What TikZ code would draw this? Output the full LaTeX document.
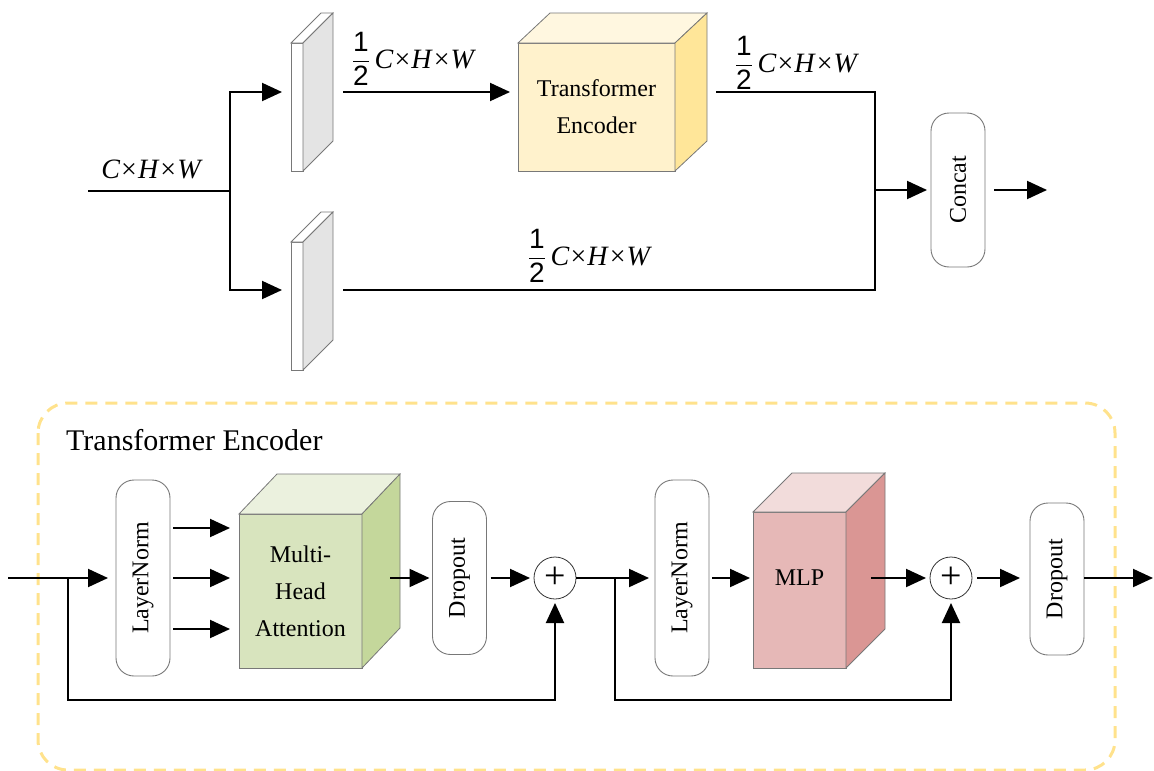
\documentclass[tikz,border=0pt]{standalone}
\usepackage{fontspec}
\setmainfont{Liberation Serif}
\setsansfont{Liberation Sans}
\usepackage{amsmath}
\usepackage{graphicx}
\usetikzlibrary{arrows.meta, positioning}

\definecolor{edgegray}{RGB}{120,120,120}
\definecolor{frameyellow}{RGB}{255,226,140}
\definecolor{encfront}{RGB}{255,242,204}
\definecolor{enctop}{RGB}{255,247,224}
\definecolor{encside}{RGB}{255,230,153}
\definecolor{mhafront}{RGB}{216,228,190}
\definecolor{mhatop}{RGB}{235,241,222}
\definecolor{mhaside}{RGB}{196,215,155}
\definecolor{mlpfront}{RGB}{230,184,183}
\definecolor{mlptop}{RGB}{242,220,219}
\definecolor{mlpside}{RGB}{218,150,148}
\definecolor{slabside}{RGB}{228,228,228}

% top and side faces of a box drawn behind its front node
\newcommand{\drawcube}[5]{%
  \filldraw[face, fill=#4] (#1.north west) -- ([shift={(#2,#3)}]#1.north west)
    -- ([shift={(#2,#3)}]#1.north east) -- (#1.north east) -- cycle;
  \filldraw[face, fill=#5] (#1.north east) -- ([shift={(#2,#3)}]#1.north east)
    -- ([shift={(#2,#3)}]#1.south east) -- (#1.south east) -- cycle;}
\newcommand{\chw}{\textit{C}\kern1pt×\kern1pt\textit{H}\kern1pt×\kern1pt\textit{W}}
\newcommand{\halfchw}{$\dfrac{\textsf{1}}{\textsf{2}}$\,\chw}

\begin{document}
\begin{tikzpicture}[x=1pt, y=-1pt,
  line/.style={line width=2pt},
  arr/.style={line width=2pt, -{Triangle[length=20pt, width=18pt]}},
  face/.style={draw=edgegray, line width=0.8pt},
  front/.style={face, outer sep=0pt, inner sep=0pt, align=center, font=\fontsize{24}{37}\selectfont},
  vbox/.style={draw=edgegray, line width=0.9pt, rounded corners=18pt, outer sep=0pt, minimum width=54pt, font=\fontsize{24}{28}\selectfont},
  addop/.style={circle, draw=black!80, line width=0.8pt, minimum size=42pt, inner sep=0pt, outer sep=0pt, font=\fontsize{38}{40}\selectfont},
  dimlabel/.style={font=\fontsize{28}{32}\selectfont, anchor=base, inner sep=0pt},
  frame/.style={draw=frameyellow, line width=3pt, dash pattern=on 12pt off 8pt, rounded corners=30pt}
]
  \useasboundingbox (0,0) rectangle (1154,771);

  % ---- upper part: split, encoder, concat ----
  \coordinate (in) at (88,191);
  \coordinate (split) at (230,191);
  \coordinate (r1) at (0,92);
  \coordinate (r2) at (0,290);
  \coordinate (merge) at (875,190);
  \coordinate (out) at (1047,190);

  \node[front, fill=white, minimum width=12pt, minimum height=128pt] (sa) at (297,107) {};
  \drawcube{sa}{30pt}{30pt}{white}{slabside}
  \node[front, fill=white, minimum width=12pt, minimum height=128pt] (sb) at (297,306) {};
  \drawcube{sb}{30pt}{30pt}{white}{slabside}

  \node[front, fill=encfront, minimum width=157pt, minimum height=128pt] (enc) at (596.5,107) {Transformer\\Encoder};
  \drawcube{enc}{32pt}{30pt}{enctop}{encside}

  \node[vbox, minimum height=154pt] (concat) at (958,190) {\rotatebox{90}{Concat}};

  \draw[line] (in) -- (split);
  \draw[arr] (split) |- ([xshift=-9pt]sa.west |- r1);
  \draw[arr] (split) |- ([xshift=-9pt]sb.west |- r2);
  \draw[arr] ([xshift=40pt]sa.east |- r1) -- ([xshift=-8pt]enc.west |- r1);
  \draw[line] ([xshift=41pt]enc.east |- r1) -| (merge) |- ([xshift=40pt]sb.east |- r2);
  \draw[arr] (merge) -- ([xshift=-4pt]concat.west);
  \draw[arr] ([xshift=9pt]concat.east) -- (out);

  \node[dimlabel] (lin) at (152,178) {\chw};
  \node[dimlabel] (lup) at (414,68) {\halfchw};
  \node[dimlabel] (lenc) at (797,72) {\halfchw};
  \node[dimlabel] (llow) at (590,265) {\halfchw};

  % ---- lower part: encoder block ----
  \draw[frame] (38,403) rectangle (1115,770);
  \node[anchor=base west, inner sep=0pt, font=\fontsize{30}{36}\selectfont] (title) at (66,450) {Transformer Encoder};

  \coordinate (bin) at (8,578);
  \coordinate (split1) at (68,578);
  \coordinate (split2) at (615,578);
  \coordinate (low) at (0,700);
  \coordinate (bout) at (1153,578);

  \node[vbox, minimum height=196pt] (ln1) at (143,578) {\rotatebox{90}{LayerNorm}};
  \node[front, fill=mhafront, minimum width=123pt, minimum height=154pt] (mha) at (300.5,591) {Multi-\\Head\\Attention};
  \drawcube{mha}{38pt}{40pt}{mhatop}{mhaside}
  \node[vbox, minimum height=153pt] (drop1) at (459.5,578) {\rotatebox{90}{Dropout}};
  \node[addop] (add1) at (555,578) {+};

  \node[vbox, minimum height=196pt] (ln2) at (682,578) {\rotatebox{90}{LayerNorm}};
  \node[front, fill=mlpfront, minimum width=93pt, minimum height=156pt] (mlp) at (799.5,590) {};
  \drawcube{mlp}{39pt}{39pt}{mlptop}{mlpside}
  \node[font=\fontsize{24}{28}\selectfont] (mlptext) at (mlp.center |- ln2.center) {MLP};
  \node[addop] (add2) at (951,578) {+};
  \node[vbox, minimum height=152pt] (drop2) at (1057,579) {\rotatebox{90}{Dropout}};

  \draw[line] (bin) -- (split1);
  \draw[arr] (split1) -- ([xshift=-8pt]ln1.west);
  \foreach \dy in {50,0,-51}
    \draw[arr] ([shift={(3pt,\dy pt)}]ln1.east) -- ([shift={(-9pt,\dy pt)}]mha.west |- ln1.east);
  \draw[arr] ([xshift=28pt]mha.east |- ln1.east) -- ([xshift=-3pt]drop1.west);
  \draw[arr] ([xshift=4pt]drop1.east) -- ([xshift=-4pt]add1.west);
  \draw[arr] (split1) |- (add1 |- low) -- ([yshift=-4pt]add1.south);

  \draw[line] (add1.east) -- (split2);
  \draw[arr] (split2) -- ([xshift=-6pt]ln2.west);
  \draw[arr] ([xshift=3pt]ln2.east) -- ([xshift=-3pt]mlp.west |- ln2.east);
  \draw[arr] ([xshift=25pt]mlp.east |- ln2.east) -- ([xshift=-4pt]add2.west);
  \draw[arr] (split2) |- (add2 |- low) -- ([yshift=-4pt]add2.south);
  \draw[arr] ([xshift=5pt]add2.east) -- ([xshift=-10pt]drop2.west |- add2.east);
  \draw[arr] (drop2.east |- add2.east) -- (bout);
\end{tikzpicture}
\end{document}
